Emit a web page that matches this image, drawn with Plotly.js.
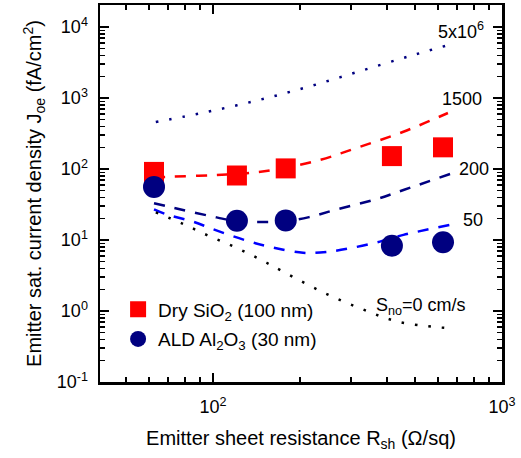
<!DOCTYPE html>
<html>
<head>
<meta charset="utf-8">
<script src="https://cdn.plot.ly/plotly-3.0.1.min.js"></script>
<style>html,body{margin:0;padding:0;background:#fff;}#chart{width:521px;height:458px;}</style>
</head>
<body>
<div id="chart"></div>
<script>
// Measured data
const rshSiO2 = [62.5, 121, 178.5, 416, 625];
const joeSiO2 = [91, 81, 102, 152, 202];
const rshAl2O3 = [62.5, 121, 178.5, 416, 625];
const joeAl2O3 = [56, 18.7, 18.9, 8.3, 9.3];

// Simulated curves (S_no labels)
const simX_5e6 = [63.4, 95, 143, 214, 321, 481, 652];
const simY_5e6 = [459, 635, 929, 1442, 2377, 3909, 5570];
const simX_1500 = [62.5, 72, 100, 138, 162, 234, 323, 456, 650];
const simY_1500 = [76, 78, 82, 89, 97, 134, 206, 335, 615];
const simX_200 = [62.5, 69, 97.6, 121, 150, 180, 215, 268, 368, 456, 661];
const simY_200 = [33, 30, 21.8, 18.5, 17.9, 18.5, 21, 27, 37.7, 50.6, 85];
const simX_50 = [62.5, 69, 85.5, 100, 134, 162, 205, 247, 300, 378, 456, 661];
const simY_50 = [27, 23, 18.1, 14.2, 9.5, 7.8, 6.6, 6.8, 7.7, 9.5, 11.8, 16.3];
const simX_0 = [63.4, 78, 95, 117, 143.5, 175, 238, 323, 438, 661];
const simY_0 = [24.5, 17.2, 11.8, 8.2, 5.5, 3.58, 1.87, 1.09, 0.706, 0.57];

const curveLabels = ["5x10<sup>6</sup>", "1500", "200", "50"];
const xTickVals = [100, 1000];
const xTickText = ["10<sup>2</sup>", "10<sup>3</sup>"];
const yTickVals = [0.1, 1, 10, 100, 1000, 10000];
const yTickText = ["10<sup>-1</sup>", "10<sup>0</sup>", "10<sup>1</sup>", "10<sup>2</sup>", "10<sup>3</sup>", "10<sup>4</sup>"];

function minorVals(lo, hi) {
  const v = [];
  for (let e = lo; e < hi; e++) for (let m = 2; m <= 9; m++) v.push(m * Math.pow(10, e));
  return v;
}

const FONT = 'Arial, "Liberation Sans", sans-serif';
const dashed = "11px,10px";
const dotted = "2.5px,11px";

function curve(x, y, color, dash) {
  return {x: x, y: y, type: 'scatter', mode: 'lines', showlegend: false, hoverinfo: 'skip',
    line: {color: color, width: 2.5, dash: dash, shape: 'spline', smoothing: 1}};
}

const data = [
  curve(simX_5e6, simY_5e6, '#000080', dotted),
  curve(simX_1500, simY_1500, '#FF0000', dashed),
  curve(simX_200, simY_200, '#000080', dashed),
  curve(simX_50, simY_50, '#0000FF', dashed),
  curve(simX_0, simY_0, '#000000', dotted),
  {x: rshSiO2, y: joeSiO2, type: 'scatter', mode: 'markers', name: 'Dry SiO<sub>2</sub> (100 nm)',
   legendgroup: 'a', marker: {symbol: 'square', size: 20, color: '#FF0000'}},
  {x: rshAl2O3, y: joeAl2O3, type: 'scatter', mode: 'markers', name: 'ALD Al<sub>2</sub>O<sub>3</sub> (30 nm)',
   legendgroup: 'b', marker: {symbol: 'circle', size: 22, color: '#000080'}}
];

const axisCommon = {
  type: 'log', showline: true, linewidth: 2.5, linecolor: '#000', mirror: 'ticks',
  ticks: 'inside', ticklen: 9, tickwidth: 2, tickcolor: '#000', showgrid: false, zeroline: false,
  tickmode: 'array', tickfont: {family: FONT, size: 18, color: '#000'}
};

const layout = {
  width: 521, height: 458,
  margin: {l: 100, r: 19, t: 5, b: 76},
  paper_bgcolor: '#fff', plot_bgcolor: '#fff',
  font: {family: FONT, color: '#000'},
  showlegend: true,
  legend: {x: 0.045, y: 0.243, xanchor: 'left', yanchor: 'top', bgcolor: 'rgba(0,0,0,0)',
    font: {family: FONT, size: 19, color: '#000'}, tracegroupgap: 2, traceorder: 'grouped'},
  xaxis: Object.assign({}, axisCommon, {
    range: [1.609, 3.0], tickvals: xTickVals, ticktext: xTickText,
    minor: {tickmode: 'array', tickvals: minorVals(1, 3), ticks: 'inside', ticklen: 5, tickwidth: 1.5, tickcolor: '#000', showgrid: false},
    ticklabelstandoff: 7,
    title: {text: 'Emitter sheet resistance R<sub>sh</sub> (\u03A9/sq)', font: {family: FONT, size: 20, color: '#000'}, standoff: 15},
    automargin: false
  }),
  yaxis: Object.assign({}, axisCommon, {
    range: [-1, 4.31], tickvals: yTickVals, ticktext: yTickText,
    minor: {tickmode: 'array', tickvals: minorVals(-1, 4).concat(minorVals(4, 5)), ticks: 'inside', ticklen: 5, tickwidth: 1.5, tickcolor: '#000', showgrid: false},
    ticklabelstandoff: 6,
    title: {text: 'Emitter sat. current density J<sub>oe</sub> (fA/cm<sup>2</sup>)', font: {family: FONT, size: 20, color: '#000'}, standoff: 10},
    automargin: false
  }),
  annotations: [
    {x: 2.858, y: 3.944, xref: 'x', yref: 'y', text: curveLabels[0], showarrow: false, font: {family: FONT, size: 18, color: '#000'}},
    {x: 2.863, y: 2.993, xref: 'x', yref: 'y', text: curveLabels[1], showarrow: false, font: {family: FONT, size: 18, color: '#000'}},
    {x: 2.903, y: 2.0, xref: 'x', yref: 'y', text: curveLabels[2], showarrow: false, font: {family: FONT, size: 18, color: '#000'}},
    {x: 2.901, y: 1.282, xref: 'x', yref: 'y', text: curveLabels[3], showarrow: false, font: {family: FONT, size: 18, color: '#000'}},
    {x: 2.558, y: 0.06, xref: 'x', yref: 'y', xanchor: 'left', text: 'S<sub>no</sub>=0 cm/s', showarrow: false, font: {family: FONT, size: 18, color: '#000'}}
  ]
};

Plotly.newPlot('chart', data, layout, {displayModeBar: false, staticPlot: true});
</script>
</body>
</html>
